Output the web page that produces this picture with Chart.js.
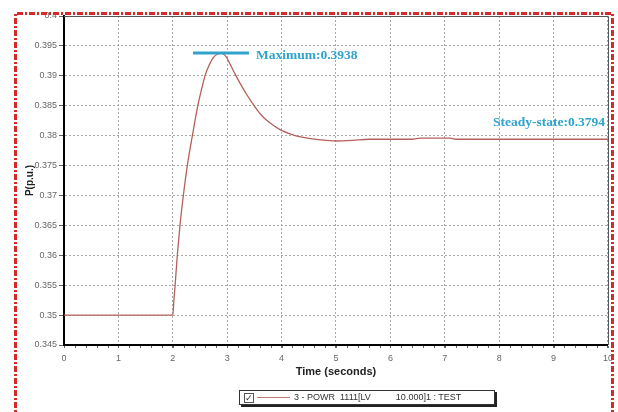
<!DOCTYPE html>
<html>
<head>
<meta charset="utf-8">
<script src="https://cdn.jsdelivr.net/npm/chart.js@4/dist/chart.umd.min.js"></script>
<style>
  html, body { margin: 0; padding: 0; background: #fff; }
  #wrap { position: relative; width: 618px; height: 412px; }
  #legendBox {
    position: absolute; left: 239px; top: 390px; width: 256px; height: 15px;
    border: 1px solid #333; box-shadow: 2px 2px 0 #222; background: #fff;
    font: 9px "Liberation Sans", Arial, sans-serif; color: #333; box-sizing: border-box;
  }
  #legendBox .chk {
    position: absolute; left: 4px; top: 2px; width: 8px; height: 8px;
    border: 1px solid #555; font-size: 9px; line-height: 8px; text-align: center;
  }
  #legendBox .ln { position: absolute; left: 17px; top: 6px; width: 33px; height: 0; border-top: 1px solid #c27a78; }
  #legendBox .txt { position: absolute; left: 54px; top: 1px; white-space: pre; }
</style>
</head>
<body>
<div id="wrap">
  <canvas id="c" width="618" height="412"></canvas>
  <div id="legendBox"><span class="chk">&#10003;</span><span class="ln"></span><span class="txt">3 - POWR  1111[LV          10.000]1 : TEST</span></div>
</div>
<script>
// Active power response of bus 1111 after the step at t = 2 s
const timeSec = [0, 2.0, 2.02, 2.04, 2.083, 2.132, 2.194, 2.267, 2.36, 2.46, 2.53, 2.592, 2.64, 2.68, 2.72, 2.76, 2.82, 2.885,
                 2.95, 3.0, 3.05, 3.10, 3.15, 3.24, 3.35, 3.45, 3.55, 3.65, 3.79, 3.97, 4.22, 4.40, 4.71, 5.0, 5.3, 5.6,
                 6.0, 6.4, 6.55, 7.1, 7.2, 8.0, 9.0, 10.0];
const powerPU = [0.35, 0.35, 0.3525, 0.3547, 0.36, 0.365, 0.37, 0.375, 0.38, 0.385, 0.3878, 0.39, 0.3912, 0.3920, 0.3927, 0.3932, 0.3936, 0.3938,
                 0.3935, 0.3929, 0.3920, 0.3911, 0.3902, 0.3887, 0.3870, 0.3856, 0.3843, 0.3832, 0.3821, 0.3810, 0.3801, 0.3797, 0.3793, 0.3791, 0.3792, 0.3794,
                 0.3794, 0.3794, 0.3796, 0.3796, 0.3794, 0.3794, 0.3794, 0.3794];
const xTicks = [0, 1, 2, 3, 4, 5, 6, 7, 8, 9, 10];
const yTicks = [0.345, 0.35, 0.355, 0.36, 0.365, 0.37, 0.375, 0.38, 0.385, 0.39, 0.395, 0.4];
const maxValue = 0.3938;
const steadyValue = 0.3794;
const maxMarkerSpan = [2.37, 3.4];
const legendLabel = '3 - POWR  1111[LV          10.000]1 : TEST';

const points = timeSec.map((t, i) => ({ x: t, y: powerPU[i] }));
const cyan = '#2fa3cc';

// frame, minor ticks, annotations and the dash-dot page border
const decor = {
  id: 'decor',
  afterDatasetsDraw(chart) {
    const { ctx, chartArea: a, scales: { x, y } } = chart;
    ctx.save();
    // top and right edges of the plot box
    ctx.strokeStyle = '#555';
    ctx.lineWidth = 1;
    ctx.beginPath();
    ctx.moveTo(a.left, a.top + 0.5); ctx.lineTo(a.right + 0.5, a.top + 0.5); ctx.lineTo(a.right + 0.5, a.bottom);
    ctx.stroke();
    // minor ticks on the time axis
    ctx.strokeStyle = '#666';
    ctx.beginPath();
    for (let v = 0; v <= 10.001; v += 0.2) {
      const px = Math.round(x.getPixelForValue(v)) + 0.5;
      ctx.moveTo(px, a.bottom + 1); ctx.lineTo(px, a.bottom + 3);
    }
    ctx.stroke();
    // maximum marker
    const yMax = y.getPixelForValue(maxValue);
    ctx.strokeStyle = cyan;
    ctx.lineWidth = 3;
    ctx.beginPath();
    ctx.moveTo(x.getPixelForValue(maxMarkerSpan[0]), yMax);
    ctx.lineTo(x.getPixelForValue(maxMarkerSpan[1]), yMax);
    ctx.stroke();
    ctx.fillStyle = cyan;
    ctx.font = 'bold 13.5px "Liberation Serif", "Times New Roman", serif';
    ctx.textBaseline = 'middle';
    ctx.textAlign = 'left';
    ctx.fillText('Maximum:' + maxValue.toFixed(4), x.getPixelForValue(maxMarkerSpan[1]) + 7, yMax + 2);
    ctx.textAlign = 'right';
    ctx.fillText('Steady-state:' + steadyValue.toFixed(4), 605, y.getPixelForValue(steadyValue) - 17);
    // dash-dot border around the figure
    ctx.strokeStyle = '#d42a2a';
    ctx.lineWidth = 3;
    ctx.setLineDash([6, 2, 2, 2]);
    ctx.beginPath();
    ctx.moveTo(15.5, 420); ctx.lineTo(15.5, 13.5); ctx.lineTo(612.5, 13.5); ctx.lineTo(612.5, 420);
    ctx.stroke();
    ctx.restore();
  }
};

new Chart(document.getElementById('c'), {
  type: 'line',
  data: {
    datasets: [{
      label: legendLabel,
      data: points,
      borderColor: '#b5605c',
      borderWidth: 1.3,
      pointRadius: 0,
      cubicInterpolationMode: 'monotone',
      fill: false
    }]
  },
  options: {
    responsive: false,
    animation: false,
    layout: { padding: { top: 16, right: 10, left: 0, bottom: 0 } },
    plugins: { legend: { display: false }, tooltip: { enabled: false } },
    scales: {
      x: {
        type: 'linear',
        min: 0, max: 10,
        afterBuildTicks: s => { s.ticks = xTicks.map(v => ({ value: v })); },
        afterFit: s => { s.height = 67; },
        ticks: { color: '#666', font: { size: 9, family: '"Liberation Sans", Arial, sans-serif' }, padding: 5, maxRotation: 0 },
        grid: { color: '#a8a8a8', tickBorderDash: [], tickColor: '#666', tickLength: 3, lineWidth: 1 },
        border: { display: true, color: '#000', width: 2, dash: [2, 2] },
        title: {
          display: true, text: 'Time (seconds)', color: '#222',
          font: { size: 11, weight: 'bold', family: '"Liberation Sans", Arial, sans-serif' },
          padding: { top: 0, bottom: 33 }
        }
      },
      y: {
        min: 0.345, max: 0.4,
        afterBuildTicks: s => { s.ticks = yTicks.map(v => ({ value: v })); },
        afterFit: s => { s.width = 64; },
        ticks: {
          color: '#666', font: { size: 9, family: '"Liberation Sans", Arial, sans-serif' }, padding: 2,
          callback: v => String(parseFloat(v.toFixed(3)))
        },
        grid: { color: '#a8a8a8', tickBorderDash: [], tickColor: '#666', tickLength: 5, lineWidth: 1 },
        border: { display: true, color: '#000', width: 2, dash: [2, 2] },
        title: {
          display: true, text: 'P(p.u.)', color: '#222',
          font: { size: 10, weight: 'bold', family: '"Liberation Sans", Arial, sans-serif' },
          padding: { top: 24, bottom: 0 }
        }
      }
    }
  },
  plugins: [decor]
});
</script>
</body>
</html>
